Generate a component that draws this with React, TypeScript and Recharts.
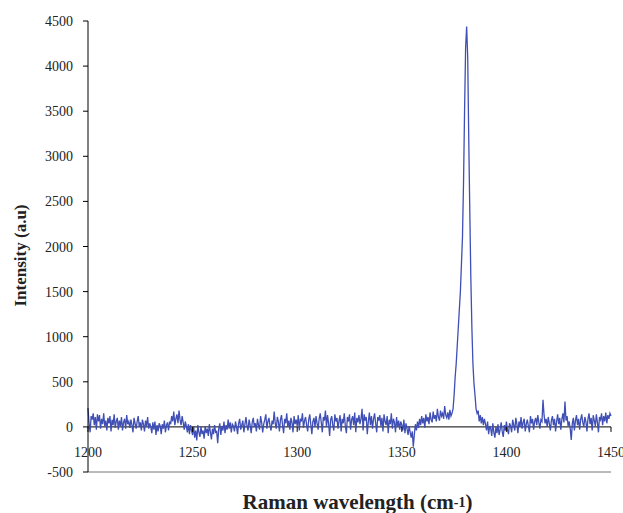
import React from "react";
import { LineChart, Line, XAxis, YAxis, ReferenceLine } from "recharts";

const X_START = 1200;
const X_STEP = 0.5;
const X_TICKS = [1200, 1250, 1300, 1350, 1400, 1450];
const Y_TICKS = [-500, 0, 500, 1000, 1500, 2000, 2500, 3000, 3500, 4000, 4500];
const Y_MIN = -500;
const Y_MAX = 4500;

const intensity: number[] = [
  210, 40, -60, 120, 80, 150, 20, 110, -30, 140, 60, 130, -20, 90, 30, 150, 10, 70, -40, 100,
  40, 120, -50, 80, 20, 140, -10, 60, 100, -30, 70, 10, 110, -40, 50, 90, -20, 130, 30, 60,
  -10, 80, 20, -60, 100, 40, -20, 60, 120, 0, 50, -40, 80, 30, -50, 70, 10, 110, -20, 40,
  0, -70, 50, -30, 60, -90, 20, -50, 40, 10, -80, 30, -20, 70, -60, 20, 50, -40, 60, 30,
  120, 60, 170, 20, 90, 140, 40, 180, 80, 20, 120, 50, -30, 60, 10, -60, 30, -80, 20, -40,
  -90, 10, -120, -40, -150, 20, -60, -110, 0, -80, -40, -130, 10, -70, -20, -100, 30, -60, -140, -20,
  -80, 20, -60, -50, -180, -20, 40, -90, 10, -40, 60, -70, 20, -30, 80, -20, 50, -60, 30, 10,
  -50, 60, 0, -80, 40, 90, -30, 20, 70, -60, 30, 110, 10, -40, 80, 20, -70, 50, 100, 0,
  40, -50, 90, 20, -30, 120, 50, -60, 30, 80, 140, -20, 60, 100, 10, -40, 70, 30, 170, 40,
  -20, 110, 60, -50, 80, 130, 20, -70, 90, 40, 150, 0, 70, -30, 100, 50, -60, 120, 30, 80,
  10, 130, -40, 90, 60, 150, -10, 70, 110, 20, -50, 80, 140, 30, -80, 60, 100, 0, 120, 40,
  -30, 90, 150, 50, -60, 110, 70, 180, 0, 130, 40, -100, 80, 120, 20, -40, 140, 60, 100, -20,
  70, 130, -50, 90, 40, 150, 10, -70, 110, 60, 140, -30, 80, 120, 20, 160, -60, 100, 50, 130,
  30, 90, 200, -40, 140, 70, 110, -80, 60, 160, 20, 120, -20, 90, 150, 40, -60, 110, 70, 130,
  10, 100, -50, 140, 60, 20, 120, -70, 80, 30, 150, -20, 90, 50, -60, 110, 0, 70, -30, 60,
  20, -40, 80, -70, 40, -20, -90, 10, -60, -120, -50, -220, -80, 30, -40, 60, -10, 90, 20, 120,
  40, 100, -10, 140, 60, 110, 30, 160, 80, 50, 170, 90, 130, 60, 200, 110, 70, 180, 120, 150,
  90, 230, 130, 100, 160, 80, 190, 120, 150, 200, 350, 550, 700, 900, 1100, 1300, 1500, 1800, 2100, 2700,
  3500, 4200, 4440, 4100, 3200, 2400, 1650, 1100, 700, 480, 350, 200, 150, 180, 60, 130, 40, 110, 20, 90,
  30, -40, 60, -80, 10, -20, -100, 40, -60, -120, 0, -70, 30, -90, -30, 50, -50, -110, 20, -40,
  60, -30, -80, 40, 10, -60, 80, 20, -40, 100, 30, -70, 60, 0, 110, -20, 50, 90, -50, 30,
  80, 10, -60, 120, 40, 90, -30, 60, 100, 20, 130, 50, -20, 80, 60, 300, 130, 40, 90, 0,
  110, 40, -40, 70, 120, 20, 90, -50, 60, 140, 30, 100, -30, 80, 150, 50, 280, 70, 120, 10,
  60, -20, -145, 40, 100, -40, 70, 130, 20, 90, -30, 80, 140, 50, 0, 110, 60, -50, 90, 150,
  30, 100, -40, 130, 70, 10, 140, 50, -60, 110, 80, 150, 20, 120, 60, 160, 40, 130, 90, 150,
  120,
];

const data = intensity.map((v, i) => ({ x: X_START + i * X_STEP, y: v }));

const W = 623;
const H = 513;
const M_TOP = 21;
const M_RIGHT = 12;
const Y_AXIS_W = 88;
const X_AXIS_H = 41;
const PLOT_H = H - M_TOP - X_AXIS_H;
const ZERO_Y = M_TOP + (PLOT_H * (Y_MAX - 0)) / (Y_MAX - Y_MIN);
const FONT = "Liberation Serif";

const XTick = (props: any) => {
  const { x, payload } = props;
  return (
    <g>
      <line x1={x} x2={x} y1={ZERO_Y} y2={ZERO_Y + 5} stroke="#000" strokeWidth={1} />
      <text
        x={x}
        y={ZERO_Y + 30}
        textAnchor="middle"
        style={{ fontFamily: FONT, fontSize: 14 }}
        fill="#222"
      >
        {payload.value}
      </text>
    </g>
  );
};

const YTick = (props: any) => {
  const { x, y, payload } = props;
  return (
    <text
      x={x}
      y={y}
      dy={5}
      textAnchor="end"
      style={{ fontFamily: FONT, fontSize: 14 }}
      fill="#222"
    >
      {payload.value}
    </text>
  );
};

const YLabel = () => (
  <text
    x={0}
    y={0}
    transform={`translate(26, ${M_TOP + PLOT_H / 2 + 9}) rotate(-90)`}
    textAnchor="middle"
    style={{ fontFamily: FONT, fontSize: 17, fontWeight: "bold" }}
    fill="#222"
  >
    Intensity (a.u)
  </text>
);

const XLabel = () => (
  <text
    x={Y_AXIS_W + (W - Y_AXIS_W - M_RIGHT) / 2 + 8}
    y={H - 4}
    textAnchor="middle"
    style={{ fontFamily: FONT, fontSize: 21, fontWeight: "bold" }}
    fill="#222"
  >
    Raman wavelength (cm
    <tspan style={{ fontSize: 14 }} dy={-2}>-1</tspan>
    <tspan dy={2}>)</tspan>
  </text>
);

export default function App() {
  return (
    <div style={{ position: "absolute", left: 0, top: 0, width: W, height: H, background: "#fff" }}>
      <LineChart
        width={W}
        height={H}
        data={data}
        margin={{ top: M_TOP, right: M_RIGHT, left: 0, bottom: 0 }}
      >
        <XAxis
          dataKey="x"
          type="number"
          domain={[1200, 1450]}
          ticks={X_TICKS}
          height={X_AXIS_H}
          axisLine={{ stroke: "#777", strokeWidth: 1 }}
          tickLine={false}
          tick={<XTick />}
          interval={0}
          label={<XLabel />}
        />
        <XAxis
          xAxisId="top"
          orientation="top"
          dataKey="x"
          type="number"
          domain={[1200, 1450]}
          height={0}
          axisLine={{ stroke: "#888", strokeWidth: 1.5 }}
          tick={false}
          tickLine={false}
        />
        <YAxis
          type="number"
          domain={[Y_MIN, Y_MAX]}
          ticks={Y_TICKS}
          width={Y_AXIS_W}
          interval={0}
          axisLine={{ stroke: "#000", strokeWidth: 1 }}
          tickLine={{ stroke: "#000", strokeWidth: 1 }}
          tickSize={5}
          tickMargin={10}
          tick={<YTick />}
          label={<YLabel />}
        />
        <YAxis
          yAxisId="right"
          orientation="right"
          type="number"
          domain={[Y_MIN, Y_MAX]}
          width={0}
          axisLine={{ stroke: "#888", strokeWidth: 2 }}
          tick={false}
          tickLine={false}
        />
        <ReferenceLine y={0} stroke="#000" strokeWidth={1} ifOverflow="visible" />
        <Line
          type="linear"
          dataKey="y"
          stroke="#3F4FB5"
          strokeWidth={1.3}
          dot={false}
          isAnimationActive={false}
        />
      </LineChart>
    </div>
  );
}
